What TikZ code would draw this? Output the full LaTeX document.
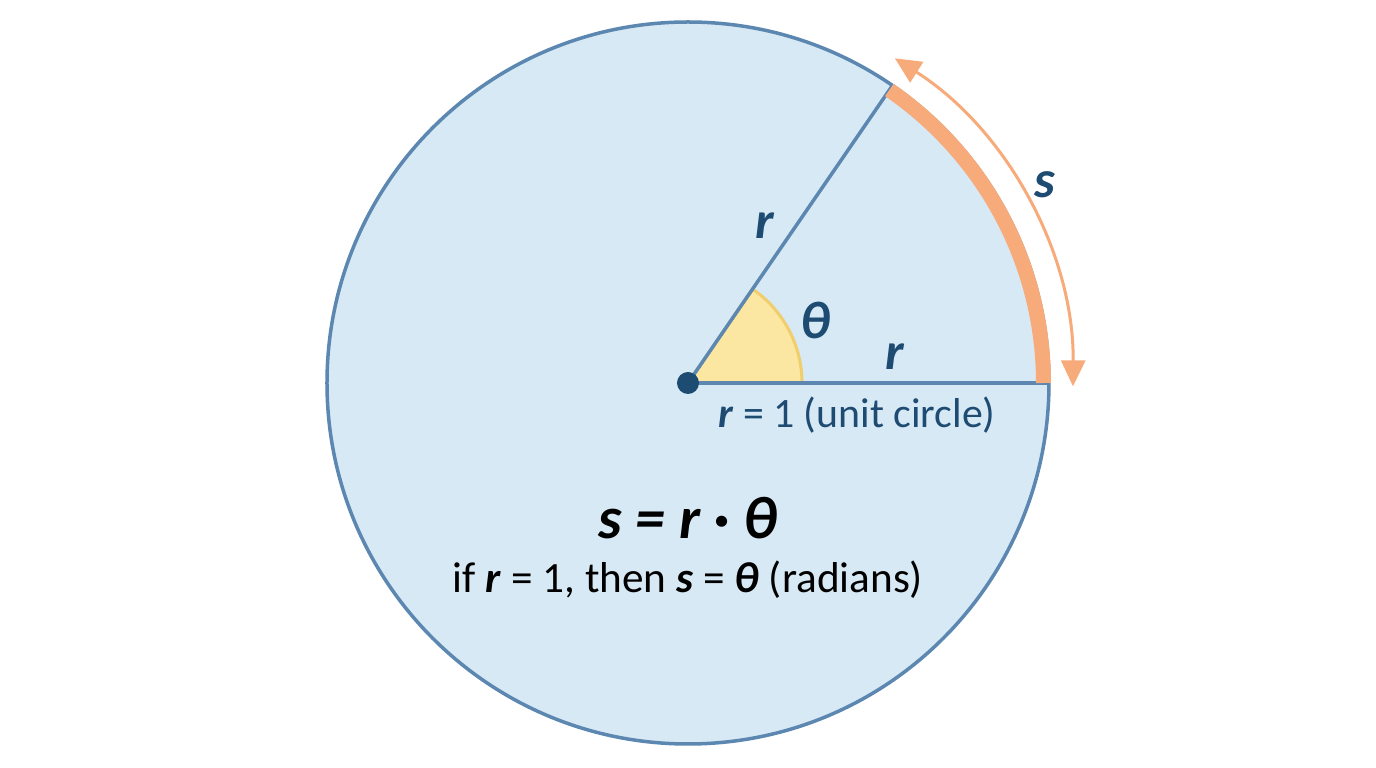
\documentclass[tikz,border=0pt]{standalone}
\usepackage{fontspec}
\setmainfont{Carlito}
\usepackage{tikz}
\usetikzlibrary{calc,arrows.meta}

\definecolor{discfill}{HTML}{D7E9F5}
\definecolor{discline}{HTML}{5B87B0}
\definecolor{arcorange}{HTML}{F7AA7A}
\definecolor{wedgefill}{HTML}{FBE6A2}
\definecolor{wedgeline}{HTML}{F0CE6C}
\definecolor{labelblue}{HTML}{1E4B72}

\tikzset{
  radius line/.style={discline, line width=0.035cm},
  var label/.style={text=labelblue, font=\fontsize{15}{18}\selectfont\bfseries\itshape},
}

\begin{document}
\begin{tikzpicture}[semithick]
  \useasboundingbox (-6.88,-3.85) rectangle (6.88,3.83);
  \coordinate (O) at (0,0);
  \coordinate (P) at (55.5:3.61);
  \coordinate (Q) at (0:3.61);

  % disc
  \draw[discline, fill=discfill, line width=0.035cm] (O) circle (3.61);

  % angle wedge
  \filldraw[fill=wedgefill, draw=wedgeline, line width=0.03cm] (O) -- (1.14,0) arc (0:55.5:1.14) -- cycle;

  % radii
  \draw[radius line] (O) -- (P);
  \draw[radius line] (O) -- (Q);
  \node[circle, fill=labelblue, inner sep=0pt, minimum size=0.22cm] (c) at (O) {};

  % arc length
  \draw[arcorange, line width=0.15cm] (0:3.555) arc (0:55.5:3.555);
  \draw[arcorange, line width=0.03cm, {Triangle[length=0.26cm,width=0.24cm]}-{Triangle[length=0.26cm,width=0.24cm]}] (57.5:3.85) arc (57.5:-0.5:3.85);

  \node[var label] (r1) at (0.77, 1.57) {r};
  \node[var label] (th) at (1.28, 0.63) {θ};
  \node[var label] (r2) at (2.07, 0.26) {r};
  \node[var label] (s) at (3.57, 1.98) {s};
  \node[text=labelblue, font=\fontsize{11.9}{14}\selectfont] (unit) at (1.69, -0.32) {\textbf{\textit{r}} = 1 (unit circle)};

  \node[font=\fontsize{17}{20}\selectfont\bfseries\itshape] (eq) at (0, -1.35) {s = r · θ};
  \node[font=\fontsize{12.3}{15}\selectfont] (note) at (0, -1.97) {if \textbf{\textit{r}} = 1, then \textbf{\textit{s}} = \textbf{\textit{θ}} (radians)};
\end{tikzpicture}
\end{document}
